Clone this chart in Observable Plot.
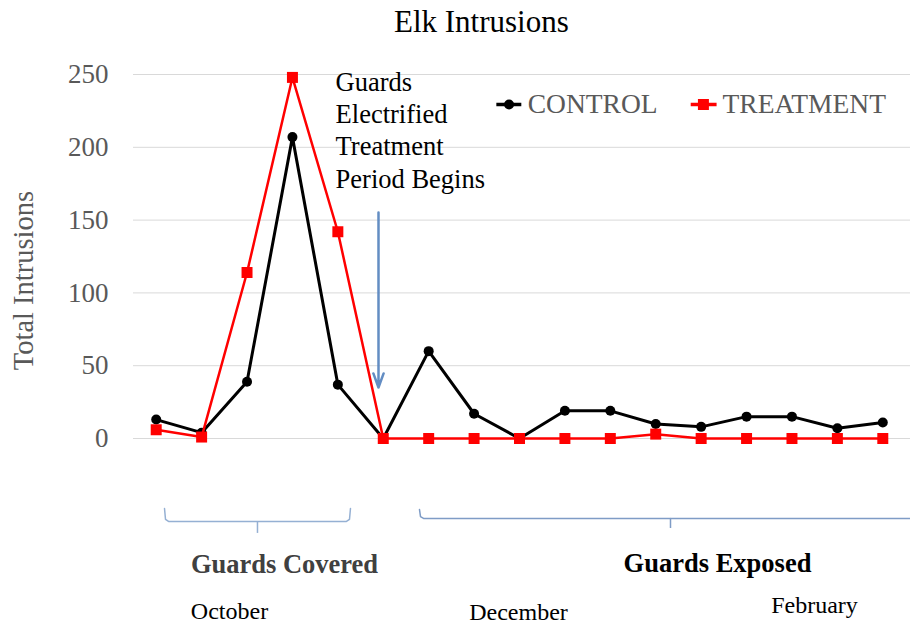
<!DOCTYPE html>
<html>
<head>
<meta charset="utf-8">
<script src="https://cdn.jsdelivr.net/npm/d3@7"></script>
<script src="https://cdn.jsdelivr.net/npm/@observablehq/plot@0.6"></script>
<style>
  body { margin: 0; background: #fff; }
  #chart svg { display: block; }
</style>
</head>
<body>
<div id="chart"></div>
<script>
// ---- data ----
const periods = [1,2,3,4,5,6,7,8,9,10,11,12,13,14,15,16,17];
const control = [13,4,39,207,37,0,60,17,0,19,19,10,8,15,15,7,11];
const treatment = [6,1,114,248,142,0,0,0,0,0,0,3,0,0,0,0,0];
const yTicks = [0,50,100,150,200,250];
const seriesNames = ["CONTROL","TREATMENT"];

// ---- annotations (data coordinates: x = period index, y = intrusions) ----
const titleText = "Elk Intrusions";
const noteText = "Guards\nElectrified\nTreatment\nPeriod Begins";
const notePos = {x: 4.95, y: 212.6};
const arrowPos = {x: 5.895, y1: 155.2, y2: 35};
const bracketCovered = [[1.183,-48.1],[1.205,-55.6],[1.271,-57.0],[5.19,-57.0],[5.256,-55.6],[5.278,-48.1]];
const bracketCoveredTick = {x: 3.23, y1: -57.0, y2: -65.2};
const bracketExposed = [[6.798,-48.8],[6.82,-53.6],[6.886,-54.9],[17.61,-54.9]];
const bracketExposedTick = {x: 12.325, y1: -54.9, y2: -61.8};
const phaseLabels = [
  {text: "Guards Covered", x: 3.825, y: -86.5, fill: "#404040"},
  {text: "Guards Exposed", x: 13.36, y: -85.9, fill: "#000000"}
];
const monthLabels = [
  {text: "October", x: 2.614, y: -118.8},
  {text: "December", x: 8.978, y: -119.5},
  {text: "February", x: 15.496, y: -114.7}
];
const legendY = 229.4;
const legendItems = [
  {name: seriesNames[0], x1: 8.49, x2: 9.04, xm: 8.77, xt: 9.18, color: "#000000"},
  {name: seriesNames[1], x1: 12.77, x2: 13.34, xm: 13.05, xt: 13.47, color: "#ff0000"}
];

const controlData = periods.map((p, i) => ({p, v: control[i]}));
const treatmentData = periods.map((p, i) => ({p, v: treatment[i]}));

const serif = "'Liberation Serif', 'Times New Roman', serif";

const chart = Plot.plot({
  width: 910,
  height: 625,
  marginLeft: 133,
  marginRight: 0,
  marginTop: 0,
  marginBottom: 0,
  style: {fontFamily: serif, background: "#fff"},
  x: {type: "linear", domain: [0.5, 17.5], range: [133, 905], axis: null},
  y: {domain: [0, 250], range: [438, 74], axis: null},
  marks: [
    Plot.gridY(yTicks, {stroke: "#d9d9d9", strokeOpacity: 1, strokeWidth: 1}),
    Plot.axisY(yTicks, {tickSize: 0, tickPadding: 25, fontSize: 27, fill: "#595959", label: null, anchor: "left"}),
    Plot.text([titleText], {x: 8.16, y: 285.7, text: d => d, fontSize: 31, fill: "#000"}),
    Plot.text(["Total Intrusions"], {x: -1.922, y: 108.5, text: d => d, rotate: -90, fontSize: 28.5, fill: "#595959"}),
    // data lines
    Plot.line(controlData, {x: "p", y: "v", stroke: "#000", strokeWidth: 3}),
    Plot.dot(controlData, {x: "p", y: "v", r: 5, fill: "#000", symbol: "circle"}),
    Plot.line(treatmentData, {x: "p", y: "v", stroke: "#ff0000", strokeWidth: 2.5}),
    Plot.dot(treatmentData, {x: "p", y: "v", r: 6.2, fill: "#ff0000", symbol: "square"}),
    // annotation
    Plot.text([noteText], {x: notePos.x, y: notePos.y, text: d => d, textAnchor: "start", lineAnchor: "middle", lineHeight: 1.22, fontSize: 26.5, fill: "#000"}),
    Plot.arrow([arrowPos], {x1: "x", x2: "x", y1: "y1", y2: "y2", stroke: "#5b87c0", strokeWidth: 2.5, headLength: 9, headAngle: 40, strokeOpacity: 0.95}),
    // brackets
    Plot.line(bracketCovered, {x: d => d[0], y: d => d[1], stroke: "#95b0d3", strokeWidth: 1.5}),
    Plot.ruleX([bracketCoveredTick], {x: "x", y1: "y1", y2: "y2", stroke: "#95b0d3", strokeWidth: 1.5}),
    Plot.line(bracketExposed, {x: d => d[0], y: d => d[1], stroke: "#7f9cc6", strokeWidth: 1.5}),
    Plot.ruleX([bracketExposedTick], {x: "x", y1: "y1", y2: "y2", stroke: "#7f9cc6", strokeWidth: 1.5}),
    Plot.text(phaseLabels, {x: "x", y: "y", text: "text", fill: "fill", fontWeight: "bold", fontSize: 26.5}),
    Plot.text(monthLabels, {x: "x", y: "y", text: "text", fill: "#000", fontSize: 24}),
    // legend
    Plot.link(legendItems, {x1: "x1", x2: "x2", y1: () => legendY, y2: () => legendY, stroke: "color", strokeWidth: 3.5}),
    Plot.dot([legendItems[0]], {x: "xm", y: () => legendY, r: 5, fill: "#000", symbol: "circle"}),
    Plot.dot([legendItems[1]], {x: "xm", y: () => legendY, r: 6.2, fill: "#ff0000", symbol: "square"}),
    Plot.text(legendItems, {x: "xt", y: () => legendY, text: "name", textAnchor: "start", fontSize: 27.5, fill: "#595959"})
  ]
});
document.getElementById("chart").append(chart);
</script>
</body>
</html>
